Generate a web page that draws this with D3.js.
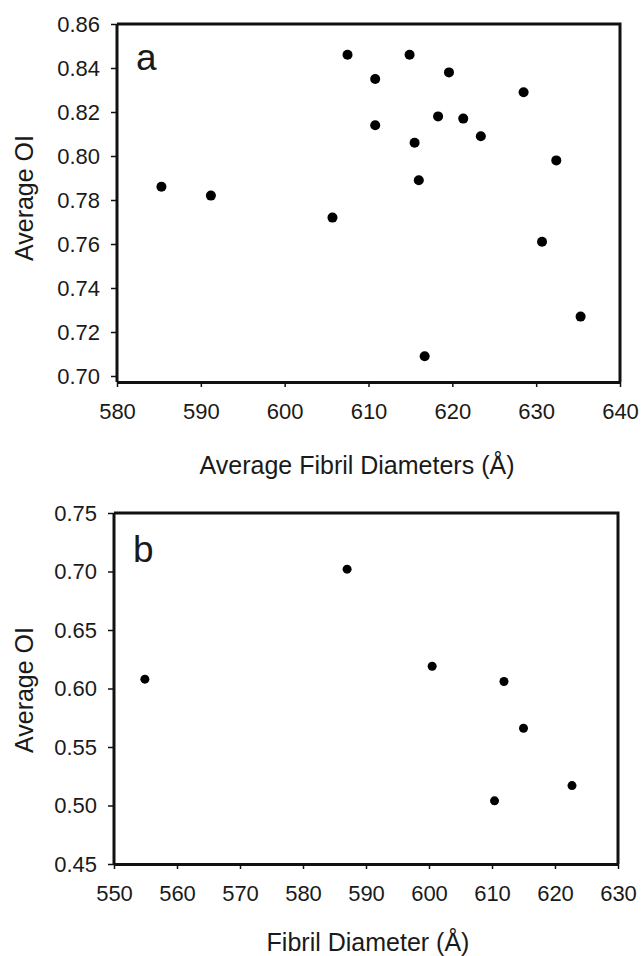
<!DOCTYPE html>
<html>
<head>
<meta charset="utf-8">
<script src="https://cdn.jsdelivr.net/npm/d3@7"></script>
<style>
  body { margin: 0; background: #fff; }
  text { font-family: "Liberation Sans", Arial, sans-serif; fill: #1a1a1a; }
</style>
</head>
<body>
<script>
// panel a: average fibril diameter (Å) vs average OI
const diamA = [585.3, 591.2, 605.7, 607.5, 610.8, 610.8, 614.9, 615.5, 616.0, 616.7,
               618.3, 619.6, 621.3, 623.4, 628.5, 630.7, 632.4, 635.3];
const oiA = [0.786, 0.782, 0.772, 0.846, 0.835, 0.814, 0.846, 0.806, 0.789, 0.709,
             0.818, 0.838, 0.817, 0.809, 0.829, 0.761, 0.798, 0.727];
const xTicksA = [580, 590, 600, 610, 620, 630, 640];
const yTicksA = [0.70, 0.72, 0.74, 0.76, 0.78, 0.80, 0.82, 0.84, 0.86];

// panel b: fibril diameter (Å) vs average OI
const diamB = [554.9, 587.0, 600.5, 610.4, 611.9, 615.0, 622.7];
const oiB = [0.608, 0.702, 0.619, 0.504, 0.606, 0.566, 0.517];
const xTicksB = [550, 560, 570, 580, 590, 600, 610, 620, 630];
const yTicksB = [0.45, 0.50, 0.55, 0.60, 0.65, 0.70, 0.75];

const width = 641;
const height = 956;

let svg = d3.select("body")
    .append("svg")
    .attr("width", width)
    .attr("height", height);

const drawPanel = (p) => {
    let x = d3.scaleLinear().domain(p.xDomain).range([p.left, p.right]);
    let y = d3.scaleLinear().domain(p.yDomain).range([p.yBottom, p.top]);

    // frame: top and right lines
    svg.append("path")
        .attr("d", `M${p.left},${p.top}H${p.right}V${p.xAxisY}`)
        .attr("fill", "none")
        .attr("stroke", "#111")
        .attr("stroke-width", 3);

    let yAxis = svg.append("g")
        .attr("transform", `translate(${p.left},0)`)
        .call(d3.axisLeft(y).tickValues(p.yTicks).tickFormat(d3.format(".2f"))
            .tickSize(6).tickSizeOuter(0).tickPadding(11));

    let xAxis = svg.append("g")
        .attr("transform", `translate(0,${p.xAxisY})`)
        .call(d3.axisBottom(x).tickValues(p.xTicks).tickFormat(d3.format("d"))
            .tickSize(5).tickSizeOuter(0).tickPadding(16));

    [yAxis, xAxis].forEach(g => {
        g.select(".domain").attr("stroke", "#111").attr("stroke-width", 3);
        g.selectAll(".tick line").attr("stroke", "#111").attr("stroke-width", 1.5);
        g.selectAll("text")
            .style("font-size", "22px")
            .style("font-family", "'Liberation Sans', Arial, sans-serif")
            .attr("fill", "#1a1a1a");
    });
    // stretch the y axis line down to the x axis
    yAxis.select(".domain").attr("d", `M0,${p.top}V${p.xAxisY}`);

    svg.append("g")
        .selectAll("circle")
        .data(p.xs.map((d, i) => ({ x: d, y: p.ys[i] })))
        .join("circle")
        .attr("cx", d => x(d.x))
        .attr("cy", d => y(d.y))
        .attr("r", p.r)
        .attr("fill", "#000");

    // panel letter
    svg.append("text")
        .attr("x", p.left + 19)
        .attr("y", p.letterY)
        .style("font-size", "37px")
        .text(p.letter);

    // axis titles
    svg.append("text")
        .attr("x", p.xTitleX)
        .attr("y", p.xTitleY)
        .attr("text-anchor", "middle")
        .style("font-size", "25px")
        .text(p.xTitle);

    svg.append("text")
        .attr("transform", `translate(33,${p.yTitleY}) rotate(-90)`)
        .attr("text-anchor", "middle")
        .style("font-size", "25px")
        .text("Average OI");
}

const main = () => {
    drawPanel({
        xs: diamA, ys: oiA, xTicks: xTicksA, yTicks: yTicksA,
        xDomain: [580, 640], yDomain: [0.70, 0.86],
        left: 117, right: 620, top: 24, yBottom: 376, xAxisY: 382,
        r: 5, letter: "a", letterY: 70,
        xTitle: "Average Fibril Diameters (Å)", xTitleX: 357, xTitleY: 474,
        yTitleY: 198
    });
    drawPanel({
        xs: diamB, ys: oiB, xTicks: xTicksB, yTicks: yTicksB,
        xDomain: [550, 630], yDomain: [0.45, 0.75],
        left: 114, right: 618, top: 513, yBottom: 864, xAxisY: 864,
        r: 4.5, letter: "b", letterY: 562,
        xTitle: "Fibril Diameter (Å)", xTitleX: 368, xTitleY: 951,
        yTitleY: 690
    });
}

window.addEventListener("load", main);
</script>
</body>
</html>
